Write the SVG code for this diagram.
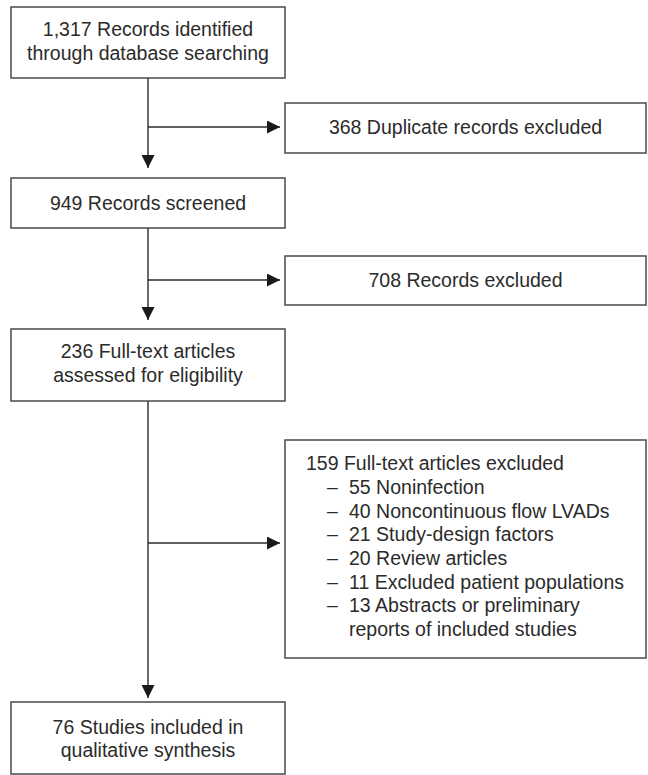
<svg xmlns="http://www.w3.org/2000/svg" width="648" height="775" viewBox="0 0 648 775">
<style>
.box{fill:#fff;stroke:#4a4a4a;stroke-width:1.5}
.t{font-family:"Liberation Sans",Arial,sans-serif;font-size:19.5px;fill:#2b2b2b}
.c{text-anchor:middle}
.ln{stroke:#2a2a2a;stroke-width:1.4;fill:none}
</style>
<defs>
<marker id="ah" markerUnits="userSpaceOnUse" markerWidth="13" markerHeight="13" viewBox="0 0 13 13" refX="13" refY="6.5" orient="auto">
<path d="M0,0 L13,6.5 L0,13 Z" fill="#1a1a1a"/>
</marker>
</defs>
<rect width="648" height="775" fill="#fff"/>
<g id="connectors">
<line class="ln" x1="148" y1="78" x2="148" y2="168" marker-end="url(#ah)"/>
<line class="ln" x1="148" y1="127" x2="280" y2="127" marker-end="url(#ah)"/>
<line class="ln" x1="148" y1="228" x2="148" y2="320" marker-end="url(#ah)"/>
<line class="ln" x1="148" y1="280" x2="280" y2="280" marker-end="url(#ah)"/>
<line class="ln" x1="148" y1="401" x2="148" y2="698" marker-end="url(#ah)"/>
<line class="ln" x1="148" y1="543" x2="280" y2="543" marker-end="url(#ah)"/>
</g>
<g id="identified">
<rect class="box" x="11" y="7" width="274" height="71"/>
<text class="t c" x="148" y="36">1,317 Records identified</text>
<text class="t c" x="148" y="60">through database searching</text>
</g>
<g id="duplicates">
<rect class="box" x="285" y="103" width="361" height="50"/>
<text class="t c" x="465.5" y="134">368 Duplicate records excluded</text>
</g>
<g id="screened">
<rect class="box" x="11" y="178" width="274" height="50"/>
<text class="t c" x="148" y="210">949 Records screened</text>
</g>
<g id="excluded708">
<rect class="box" x="285" y="256" width="361" height="49"/>
<text class="t c" x="465.5" y="287">708 Records excluded</text>
</g>
<g id="fulltext">
<rect class="box" x="11" y="329" width="274" height="72"/>
<text class="t c" x="148" y="358">236 Full-text articles</text>
<text class="t c" x="148" y="382">assessed for eligibility</text>
</g>
<g id="excluded159">
<rect class="box" x="285" y="440" width="361" height="218"/>
<text class="t" x="306" y="470">159 Full-text articles excluded</text>
<text class="t" x="327" y="494">–</text><text class="t" x="349" y="494">55 Noninfection</text>
<text class="t" x="327" y="518">–</text><text class="t" x="349" y="518">40 Noncontinuous flow LVADs</text>
<text class="t" x="327" y="541">–</text><text class="t" x="349" y="541">21 Study-design factors</text>
<text class="t" x="327" y="565">–</text><text class="t" x="349" y="565">20 Review articles</text>
<text class="t" x="327" y="589">–</text><text class="t" x="349" y="589">11 Excluded patient populations</text>
<text class="t" x="327" y="612">–</text><text class="t" x="349" y="612">13 Abstracts or preliminary</text>
<text class="t" x="349" y="636">reports of included studies</text>
</g>
<g id="included">
<rect class="box" x="11" y="702" width="274" height="72"/>
<text class="t c" x="148" y="734">76 Studies included in</text>
<text class="t c" x="148" y="757">qualitative synthesis</text>
</g>
</svg>
